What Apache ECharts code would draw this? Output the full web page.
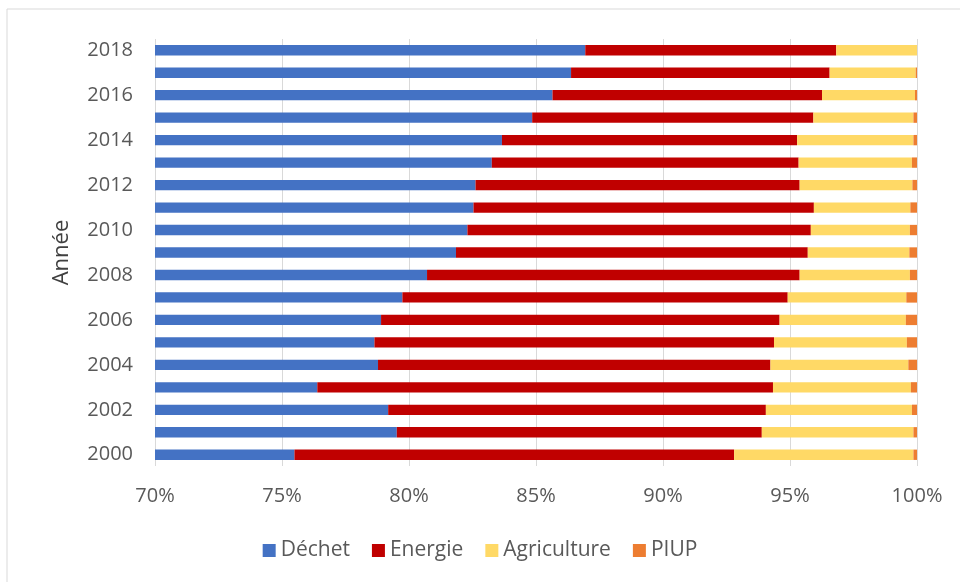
<!DOCTYPE html>
<html><head><meta charset="utf-8">
<script src="https://cdn.jsdelivr.net/npm/echarts@6/dist/echarts.min.js"></script>
<style>html,body{margin:0;padding:0;background:#fff}#c{width:960px;height:582px}</style>
</head><body><div id="c"></div>
<script>
const years = ['2000','2001','2002','2003','2004','2005','2006','2007','2008','2009','2010','2011','2012','2013','2014','2015','2016','2017','2018'];
const dechet = [75.49,79.52,79.18,76.39,78.78,78.64,78.90,79.74,80.71,81.85,82.30,82.54,82.62,83.26,83.66,84.85,85.65,86.38,86.94];
const energie = [17.31,14.37,14.87,17.94,15.45,15.73,15.69,15.17,14.67,13.85,13.52,13.40,12.76,12.08,11.62,11.07,10.61,10.18,9.88];
const agriculture = [7.06,5.97,5.75,5.43,5.43,5.23,4.97,4.67,4.34,4.00,3.90,3.80,4.44,4.46,4.58,3.94,3.66,3.39,3.18];
const piup = [0.14,0.14,0.20,0.24,0.34,0.40,0.44,0.42,0.28,0.30,0.28,0.26,0.18,0.20,0.14,0.14,0.08,0.05,0.00];
const xTicks = [70,75,80,85,90,95,100];
const names = ['Déchet','Energie','Agriculture','PIUP'];
const colors = ['#4472C4','#C00000','#FFD966','#ED7D31'];
const FONT = 'Open Sans';
const chart = echarts.init(document.getElementById('c'));
const dataSets = [dechet, energie, agriculture, piup];
chart.setOption({
  animation:false,
  textStyle:{fontFamily:FONT},
  graphic:[{type:'rect',shape:{x:7,y:9,width:960,height:580},style:{fill:'none',stroke:'#d9d9d9',lineWidth:1},silent:true}],
  legend:{data:names,bottom:16,left:'center',itemWidth:13,itemHeight:13,itemGap:22,icon:'rect',
    textStyle:{fontFamily:FONT,fontSize:21,color:'#595959'}},
  grid:{left:155,right:43,top:39,bottom:116,containLabel:false},
  xAxis:{type:'value',min:70,max:100,interval:5,
    axisLabel:{formatter:v=>xTicks.includes(v)?v+'%':'',fontFamily:FONT,fontSize:20,color:'#595959',margin:20},
    axisLine:{show:false},axisTick:{show:false},
    splitLine:{lineStyle:{color:'#d9d9d9',width:1}}},
  yAxis:{type:'category',data:years,name:'Année',nameLocation:'middle',nameGap:82,nameRotate:90,
    nameTextStyle:{fontFamily:FONT,fontSize:22,color:'#404040'},
    axisLabel:{interval:1,fontFamily:FONT,fontSize:20,color:'#595959',margin:22},
    axisLine:{show:false},axisTick:{show:false}},
  series:names.map((n,i)=>({name:n,type:'bar',stack:'t',barWidth:'46%',
    itemStyle:{color:colors[i]},data:dataSets[i]}))
});
</script></body></html>
